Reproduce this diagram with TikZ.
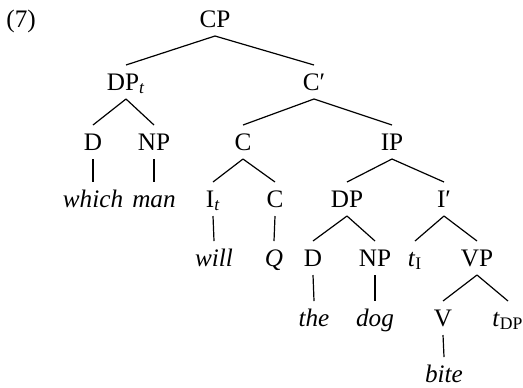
\documentclass[tikz,border=0pt]{standalone}
\usepackage{fontspec}
\setmainfont{Liberation Serif}
\tikzset{
  categoria/.style={anchor=base,inner sep=0pt,font=\fontsize{12.6}{14}\selectfont},
  palabra/.style={categoria,font=\fontsize{12.6}{14}\selectfont\itshape},
  rama/.style={line width=0.6pt,draw=black}
}
\begin{document}
\begin{tikzpicture}[x=0.5pt,y=-0.5pt]
\useasboundingbox (0,0) rectangle (523,387);

% numero del ejemplo
\node[categoria,anchor=base west] (numero) at (6,27) {(7)};

% 1. Nivel superior
\node[categoria] (cp) at (215,27) {CP};
\node[categoria] (dpt) at (126,90) {DP\textsubscript{\itshape t}};
\node[categoria] (cbar) at (314,90) {C′};

% 2. Especificador y nucleo de C
\node[categoria] (d) at (93,150) {D};
\node[categoria] (np) at (154,150) {NP};
\node[categoria] (c) at (243,150) {C};
\node[categoria] (ip) at (392,150) {IP};

\node[palabra] (which) at (93,207) {which};
\node[palabra] (man) at (154,207) {man};
\node[categoria] (it) at (213,207) {I\textsubscript{\itshape t}};
\node[categoria] (cq) at (275,207) {C};
\node[categoria] (dp) at (347,207) {DP};
\node[categoria] (ibar) at (444,207) {I′};

% 3. Nivel inferior
\node[palabra] (will) at (214,266) {will};
\node[palabra] (q) at (274,266) {Q};
\node[categoria] (dd) at (313,266) {D};
\node[categoria] (nn) at (375,266) {NP};
\node[categoria] (ti) at (415,266) {\textit{t}\textsubscript{I}};
\node[categoria] (vp) at (477,266) {VP};

\node[palabra] (the) at (314,326) {the};
\node[palabra] (dog) at (375,326) {dog};
\node[categoria] (v) at (443,326) {V};
\node[categoria] (tdp) at (508,326) {\textit{t}\textsubscript{DP}};
\node[palabra] (bite) at (444,382) {bite};

% ramas
\foreach \madre/\hija in {cp/dpt,cp/cbar,dpt/d,dpt/np,cbar/c,cbar/ip,
    d/which,np/man,c/it,c/cq,ip/dp,ip/ibar,it/will,cq/q,
    dp/dd,dp/nn,ibar/ti,ibar/vp,dd/the,nn/dog,vp/v,vp/tdp,v/bite}
  \draw[rama] ([yshift=-4.5pt]\madre.base) -- ([yshift=12.5pt]\hija.base);

\end{tikzpicture}
\end{document}
